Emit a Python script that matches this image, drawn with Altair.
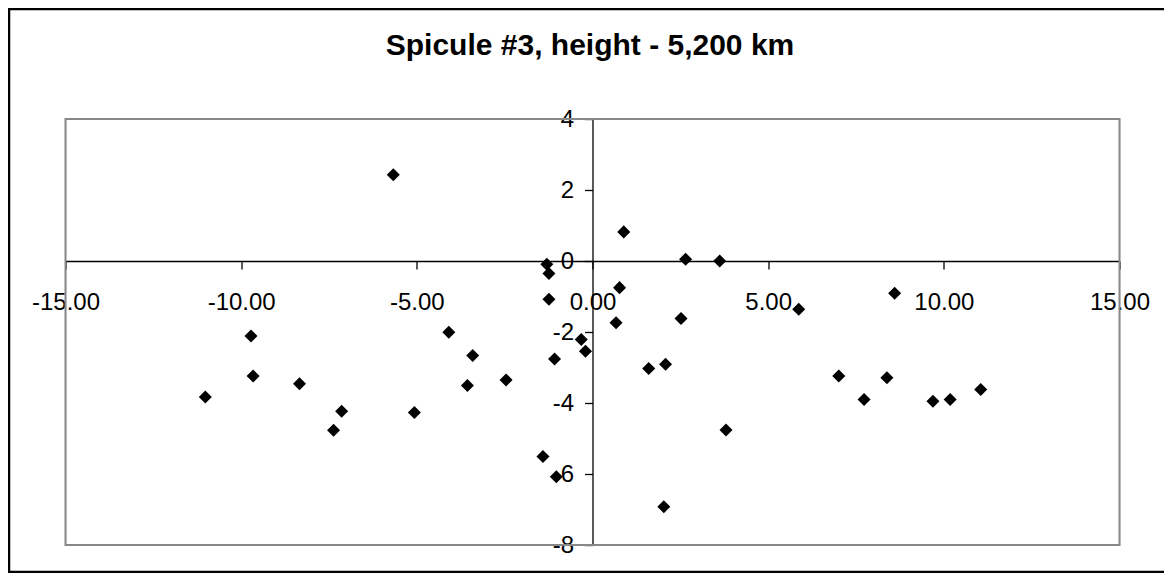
import altair as alt
import pandas as pd

# Data
x_vals = [-5.67, -9.72, -9.66, -11.02, -8.34, -7.14, -7.37,
          -4.09, -3.41, -3.56, -2.46, -5.07, -1.30, -1.24, -1.24, -1.08,
          -0.32, -0.20, -1.41, -1.03, 0.89, 2.65, 3.62, 0.77, 0.67, 2.52,
          1.60, 2.08, 3.80, 2.03,
          5.87, 8.60, 7.01, 7.73, 8.38, 9.69, 10.18, 11.05]
y_vals = [2.43, -2.11, -3.24, -3.83, -3.46, -4.23, -4.77,
          -2.01, -2.66, -3.51, -3.35, -4.27, -0.09, -0.35, -1.08, -2.76,
          -2.21, -2.54, -5.51, -6.08, 0.82, 0.05, 0.00, -0.75, -1.74, -1.62,
          -3.03, -2.91, -4.76, -6.92,
          -1.36, -0.91, -3.24, -3.90, -3.29, -3.95, -3.90, -3.62]
x_ticks = [-15, -10, -5, 0, 5, 10, 15]
y_ticks = [-8, -6, -4, -2, 0, 2, 4]
title_text = "Spicule #3, height - 5,200 km"

FONT = "Liberation Sans"
W, H = 1054, 426

df = pd.DataFrame({"x": x_vals, "y": y_vals})

x_label_expr = "datum.value < 0 ? '-' + format(-datum.value, '.2f') : format(datum.value, '.2f')"
y_label_expr = "datum.value < 0 ? '-' + format(-datum.value, 'd') : format(datum.value, 'd')"

points = alt.Chart(df).mark_point(
    shape="diamond", filled=True, color="black", size=170, opacity=1
).encode(
    x=alt.X("x:Q", scale=alt.Scale(domain=[-15, 15], nice=False, zero=False),
            axis=alt.Axis(values=x_ticks, labelExpr=x_label_expr, title=None, grid=False,
                          offset=-284, domainColor="black", domainWidth=1.3,
                          tickColor="black", tickSize=8, tickWidth=1.3,
                          labelFontSize=24, labelFont=FONT, labelColor="black",
                          labelPadding=21, labelFlush=False, labelOverlap=False,
                          labelBound=False)),
    y=alt.Y("y:Q", scale=alt.Scale(domain=[-8, 4], nice=False, zero=False),
            axis=alt.Axis(values=y_ticks, labelExpr=y_label_expr, title=None, grid=False,
                          offset=-527, domainColor="black", domainWidth=1.3,
                          tickColor="black", tickSize=8, tickWidth=1.3,
                          labelFontSize=24, labelFont=FONT, labelColor="black",
                          labelPadding=11, labelFlush=False, labelOverlap=False,
                          labelBound=False)),
)

one = pd.DataFrame({"a": [0]})

frame = alt.Chart(one).mark_rect(
    fill="transparent", stroke="black", strokeWidth=2.5
).encode(
    x=alt.value(-56.5), x2=alt.value(1200), y=alt.value(-110), y2=alt.value(453)
)

plot_border = alt.Chart(one).mark_rect(
    fill="transparent", stroke="#888888", strokeWidth=2
).encode(
    x=alt.value(0), x2=alt.value(W), y=alt.value(0), y2=alt.value(H)
)

title = alt.Chart(pd.DataFrame({"t": [title_text]})).mark_text(
    font=FONT, fontSize=30, fontWeight="bold", color="black",
    align="center", baseline="alphabetic"
).encode(
    text="t:N", x=alt.value(524.5), y=alt.value(-64)
)

chart = alt.layer(frame, plot_border, title, points).properties(
    width=W, height=H,
    autosize=alt.AutoSizeParams(type="none"),
    padding={"left": 57.5, "top": 111, "right": 44, "bottom": 28},
).configure_view(stroke=None).configure(background="white")

chart.save("out.html", embed_options={"renderer": "svg", "actions": False})
